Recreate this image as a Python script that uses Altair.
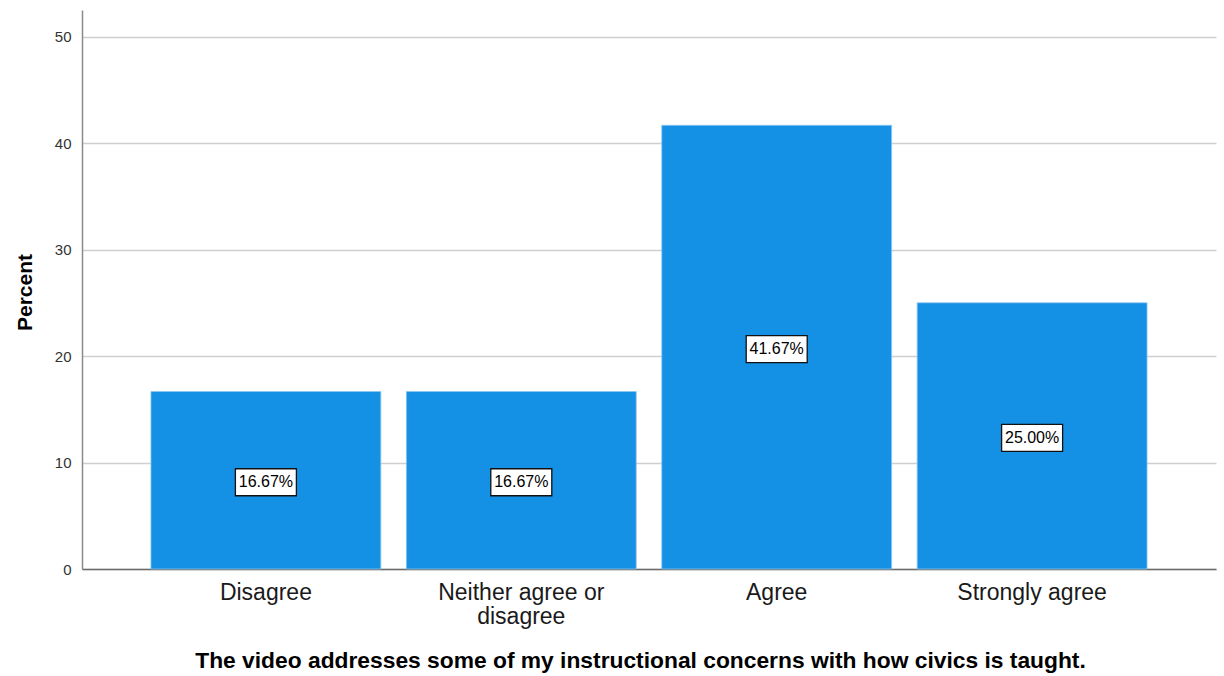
import altair as alt
import pandas as pd

# Survey responses and their share of respondents (percent)
categories = ["Disagree", "Neither agree or disagree", "Agree", "Strongly agree"]
percents = [16.67, 16.67, 41.67, 25.00]
y_ticks = [0, 10, 20, 30, 40, 50]

x_title = "The video addresses some of my instructional concerns with how civics is taught."
y_title = "Percent"

df = pd.DataFrame({"response": categories, "percent": percents})

FONT = "Liberation Sans"
BAR_BLUE = "#1490E4"

x_enc = alt.X(
    "response:N",
    sort=categories,
    scale=alt.Scale(paddingInner=0.1, paddingOuter=0.27),
    axis=alt.Axis(
        title=x_title,
        titleFont=FONT,
        titleFontSize=22.8,
        titleFontWeight="bold",
        titleColor="#000000",
        titleAlign="center",
        titleBaseline="alphabetic",
        titleX=558,
        titleY=98,
        labelFont=FONT,
        labelFontSize=23,
        labelColor="#1a1a1a",
        labelAngle=0,
        labelPadding=12,
        labelLineHeight=24,
        labelExpr="datum.label == 'Neither agree or disagree' ? ['Neither agree or', 'disagree'] : datum.label",
        ticks=False,
        tickSize=0,
        domainColor="#6b6b6b",
        domainWidth=1.5,
        grid=False,
    ),
)

y_scale = alt.Scale(domain=[0, 52.5], nice=False, zero=True)

bars = alt.Chart(df).mark_bar(
    color=BAR_BLUE, stroke="#8cc6f0", strokeWidth=0.8
).encode(
    x=x_enc,
    y=alt.Y(
        "percent:Q",
        scale=y_scale,
        axis=alt.Axis(
            title=y_title,
            titleFont=FONT,
            titleFontSize=21,
            titleFontWeight="bold",
            titleColor="#000000",
            titleAngle=270,
            titleAlign="center",
            titleBaseline="alphabetic",
            titleX=-51,
            titleY=282,
            values=y_ticks,
            labelFont=FONT,
            labelFontSize=15,
            labelColor="#333333",
            labelPadding=11,
            ticks=False,
            tickSize=0,
            domainColor="#8a8a8a",
            domainWidth=1.5,
            grid=True,
            gridColor="#cfcfcf",
            gridWidth=1.6,
        ),
    ),
)

mid = alt.Chart(df).transform_calculate(
    half="datum.percent / 2",
    label="format(datum.percent, '.2f') + '%'",
)

# White boxed value labels placed at half the bar height
boxes = mid.mark_point(
    shape="M-1,-0.443L1,-0.443L1,0.443L-1,0.443Z",
    size=3721,
    filled=True,
    fill="#ffffff",
    stroke="#111111",
    strokeWidth=1.3,
    opacity=1,
    yOffset=2,
).encode(
    x=alt.X("response:N", sort=categories),
    y=alt.Y("half:Q", scale=y_scale),
)

texts = mid.mark_text(
    font=FONT, fontSize=16, color="#000000", baseline="middle", align="center", dy=2
).encode(
    x=alt.X("response:N", sort=categories),
    y=alt.Y("half:Q", scale=y_scale),
    text="label:N",
)

chart = (
    alt.layer(bars, boxes, texts)
    .properties(
        width=1134,
        height=559,
        autosize=alt.AutoSizeParams(type="none"),
        padding={"left": 82, "top": 10, "right": 8, "bottom": 107},
        background="#ffffff",
    )
    .configure_view(stroke=None)
)

chart.save("out.html", embed_options={"renderer": "svg", "actions": False})
